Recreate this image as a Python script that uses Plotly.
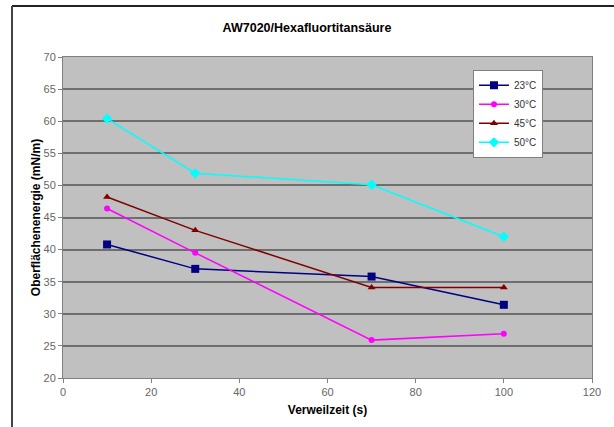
import plotly.graph_objects as go

x_vals = [10, 30, 70, 100]
series_names = ["23°C", "30°C", "45°C", "50°C"]
y_23 = [40.8, 37.0, 35.8, 31.4]
y_30 = [46.4, 39.5, 25.9, 26.9]
y_45 = [48.2, 43.0, 34.1, 34.1]
y_50 = [60.4, 51.9, 50.1, 42.0]

styles = [
    dict(color="#000080", symbol="square", size=8),
    dict(color="#FF00FF", symbol="circle", size=6),
    dict(color="#800000", symbol="triangle-up", size=7),
    dict(color="#00FFFF", symbol="diamond", size=8),
]

fig = go.Figure()
for name, ys, st in zip(series_names, [y_23, y_30, y_45, y_50], styles):
    fig.add_trace(go.Scatter(
        x=x_vals, y=ys, name=name, mode="lines+markers",
        line=dict(color=st["color"], width=1.5),
        marker=dict(color=st["color"], symbol=st["symbol"], size=st["size"]),
    ))

font_main = "Arial, Liberation Sans, sans-serif"
fig.update_layout(
    width=614, height=427,
    margin=dict(l=63, r=22, t=57, b=45),
    paper_bgcolor="white",
    plot_bgcolor="#C0C0C0",
    font=dict(family=font_main, size=11, color="#555555"),
    title=dict(text="<b>AW7020/Hexafluortitansäure</b>", x=0.5, xanchor="center",
               y=1 - 28 / 427, yanchor="middle",
               font=dict(family=font_main, size=12.5, color="black")),
    showlegend=True,
    legend=dict(x=0.775, y=0.96, xanchor="left", yanchor="top",
                bgcolor="white", bordercolor="#808080", borderwidth=1,
                font=dict(family=font_main, size=10, color="#333333"),
                tracegroupgap=0, itemwidth=30),
    xaxis=dict(range=[0, 120], dtick=20, showgrid=False, zeroline=False,
               showline=True, linecolor="#808080", linewidth=1, mirror=True,
               ticks="outside", ticklen=4, tickcolor="#808080",
               tickfont=dict(size=11, color="#666666"),
               title=dict(text="<b>Verweilzeit (s)</b>", standoff=8,
                          font=dict(size=12, color="black"))),
    yaxis=dict(range=[20, 70], dtick=5, showgrid=True, gridcolor="#6E6E6E",
               gridwidth=1.5, zeroline=False,
               showline=True, linecolor="#808080", linewidth=1, mirror=True,
               ticks="outside", ticklen=4, tickcolor="#808080",
               tickfont=dict(size=11, color="#666666"),
               title=dict(text="<b>Oberflächenenergie (mN/m)</b>", standoff=0,
                          font=dict(size=12, color="black"))),
    shapes=[
        dict(type="line", xref="paper", yref="paper",
             x0=-0.0964, x1=1.2, y0=1.1585, y1=1.1585,
             line=dict(color="#222222", width=2)),
        dict(type="line", xref="paper", yref="paper",
             x0=-0.0964, x1=-0.0964, y0=1.1585, y1=-0.2,
             line=dict(color="#444444", width=2)),
    ],
)

fig.write_html("out.html", config={"displayModeBar": False},
               post_script="document.body.style.margin='0';")
